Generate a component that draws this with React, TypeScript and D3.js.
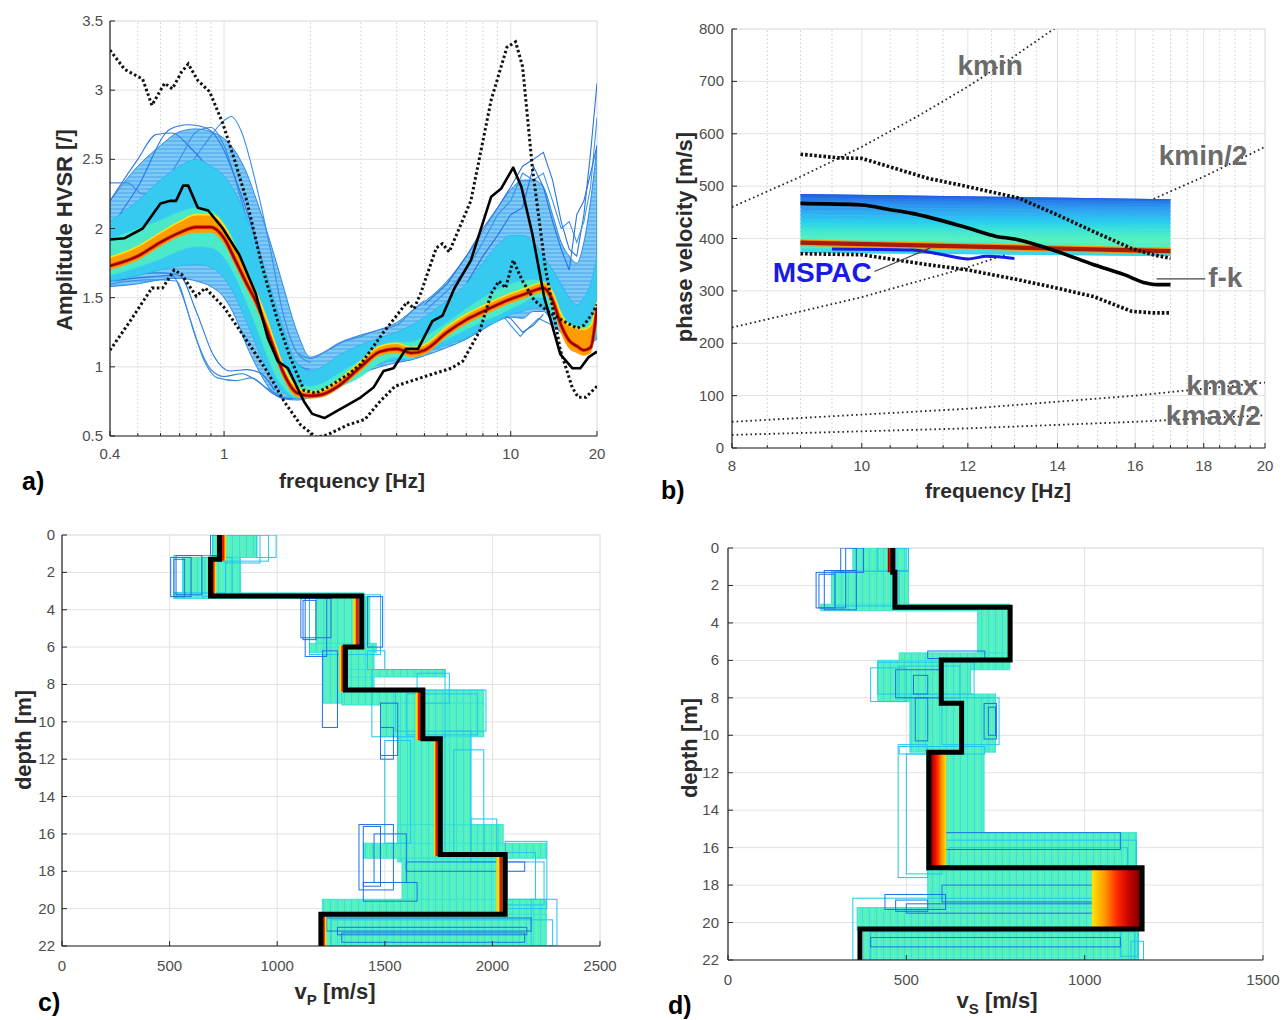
import React from "react";
import * as d3 from "d3";

type Pt = [number, number];
// depth top, depth bottom, velocity low, velocity high
type Box = [number, number, number, number];

const FONT = "'Liberation Sans', Arial, Helvetica, sans-serif";
const TICK_TEXT = "#4d4d4d";
const GRID = "#e2e2e2";

/* ---------------- (a) HVSR curves ---------------- */
const hvFreq = [0.4, 0.5, 0.6, 0.7, 0.8, 0.9, 1.0, 1.1, 1.2, 1.3, 1.4, 1.5, 1.6, 1.8, 2.0, 2.2, 2.5, 3.0, 3.5, 4.0, 4.5, 5.0, 6.0, 7.0, 8.0, 9.0, 10, 11, 12, 13, 14, 15, 16, 17, 18, 19, 20];
const hvCloudHi = [2.2, 2.45, 2.6, 2.7, 2.72, 2.7, 2.65, 2.55, 2.4, 2.2, 2.0, 1.8, 1.6, 1.25, 1.07, 1.1, 1.17, 1.23, 1.27, 1.32, 1.4, 1.47, 1.62, 1.8, 1.98, 2.15, 2.28, 2.35, 2.35, 2.3, 2.1, 1.9, 1.8, 1.75, 1.9, 2.2, 2.6];
const hvCloudLo = [1.58, 1.6, 1.63, 1.64, 1.62, 1.58, 1.5, 1.35, 1.15, 1.0, 0.88, 0.8, 0.77, 0.76, 0.78, 0.82, 0.87, 0.95, 1.0, 1.03, 1.05, 1.08, 1.14, 1.2, 1.27, 1.33, 1.36, 1.35, 1.4, 1.4, 1.32, 1.25, 1.2, 1.16, 1.15, 1.17, 1.2];
const hvMidHi = [2.05, 2.2, 2.35, 2.45, 2.5, 2.45, 2.38, 2.25, 2.08, 1.88, 1.68, 1.48, 1.3, 1.02, 0.97, 1.0, 1.08, 1.16, 1.21, 1.25, 1.3, 1.36, 1.48, 1.6, 1.75, 1.88, 1.95, 1.95, 1.9, 1.8, 1.7, 1.6, 1.5, 1.45, 1.5, 1.6, 1.8];
const hvMidLo = [1.62, 1.66, 1.7, 1.73, 1.74, 1.72, 1.64, 1.5, 1.32, 1.15, 1.0, 0.9, 0.82, 0.77, 0.78, 0.82, 0.87, 0.95, 1.02, 1.05, 1.06, 1.1, 1.16, 1.21, 1.28, 1.33, 1.38, 1.4, 1.43, 1.43, 1.35, 1.27, 1.2, 1.17, 1.16, 1.18, 1.22];
const hvCoreHi = [1.92, 2.0, 2.06, 2.12, 2.15, 2.13, 2.04, 1.88, 1.7, 1.52, 1.33, 1.15, 1.02, 0.88, 0.86, 0.88, 0.95, 1.05, 1.15, 1.18, 1.18, 1.22, 1.32, 1.42, 1.5, 1.56, 1.6, 1.62, 1.63, 1.62, 1.52, 1.4, 1.32, 1.3, 1.3, 1.35, 1.45];
const hvCoreLo = [1.66, 1.72, 1.78, 1.84, 1.87, 1.86, 1.79, 1.64, 1.46, 1.28, 1.1, 0.95, 0.86, 0.78, 0.78, 0.8, 0.85, 0.93, 1.03, 1.07, 1.06, 1.12, 1.2, 1.27, 1.33, 1.37, 1.42, 1.46, 1.5, 1.5, 1.38, 1.26, 1.18, 1.15, 1.14, 1.16, 1.25];
const hvWarmHi = [1.79, 1.87, 1.97, 2.05, 2.1, 2.1, 2.02, 1.85, 1.68, 1.53, 1.36, 1.18, 1.02, 0.85, 0.82, 0.83, 0.9, 1.04, 1.15, 1.17, 1.14, 1.16, 1.29, 1.38, 1.44, 1.49, 1.53, 1.56, 1.59, 1.61, 1.54, 1.38, 1.3, 1.28, 1.27, 1.3, 1.47];
const hvWarmLo = [1.7, 1.77, 1.87, 1.94, 1.97, 1.97, 1.89, 1.72, 1.56, 1.42, 1.25, 1.08, 0.93, 0.78, 0.77, 0.78, 0.84, 0.97, 1.08, 1.1, 1.07, 1.09, 1.22, 1.31, 1.37, 1.42, 1.46, 1.49, 1.52, 1.54, 1.44, 1.24, 1.13, 1.1, 1.08, 1.1, 1.38];
const hvBest = [1.73, 1.8, 1.9, 1.97, 2.01, 2.01, 1.93, 1.76, 1.6, 1.46, 1.29, 1.12, 0.97, 0.81, 0.79, 0.8, 0.86, 1.0, 1.11, 1.13, 1.1, 1.12, 1.25, 1.34, 1.4, 1.45, 1.49, 1.52, 1.55, 1.57, 1.48, 1.3, 1.19, 1.15, 1.12, 1.14, 1.43];

const hvMeasured: Pt[] = [[0.4, 1.92], [0.45, 1.93], [0.52, 2.0], [0.6, 2.18], [0.65, 2.2], [0.68, 2.2], [0.72, 2.31], [0.75, 2.31], [0.81, 2.15], [0.88, 2.13], [0.99, 2.0], [1.13, 1.81], [1.29, 1.53], [1.42, 1.21], [1.54, 1.04], [1.67, 0.99], [1.9, 0.75], [2.03, 0.66], [2.24, 0.63], [2.47, 0.68], [2.73, 0.73], [3.0, 0.78], [3.32, 0.85], [3.6, 0.97], [3.9, 0.99], [4.31, 1.13], [4.75, 1.13], [5.33, 1.33], [5.78, 1.37], [6.37, 1.57], [7.26, 1.77], [8.55, 2.23], [9.27, 2.29], [10.2, 2.44], [10.9, 2.3], [11.9, 1.96], [13.1, 1.5], [14.9, 1.09], [16.4, 0.99], [17.5, 0.99], [18.7, 1.07], [20, 1.11]];
const hvUpper: Pt[] = [[0.4, 3.29], [0.45, 3.15], [0.52, 3.08], [0.56, 2.89], [0.62, 3.05], [0.66, 3.01], [0.71, 3.13], [0.75, 3.19], [0.81, 3.07], [0.89, 2.99], [0.99, 2.76], [1.09, 2.49], [1.2, 2.2], [1.36, 1.72], [1.54, 1.33], [1.7, 1.07], [1.9, 0.83], [2.09, 0.81], [2.38, 0.87], [2.73, 0.95], [3.0, 1.02], [3.3, 1.14], [3.6, 1.25], [4.0, 1.37], [4.35, 1.47], [4.6, 1.42], [4.85, 1.53], [5.5, 1.86], [5.78, 1.89], [6.1, 1.83], [7.26, 2.2], [8.55, 2.93], [9.7, 3.31], [10.4, 3.35], [11.0, 3.17], [11.9, 2.44], [13.2, 1.72], [14.9, 1.12], [16.4, 0.85], [17.2, 0.78], [18.3, 0.78], [20, 0.86]];
const hvLower: Pt[] = [[0.4, 1.12], [0.47, 1.33], [0.56, 1.57], [0.61, 1.57], [0.67, 1.7], [0.71, 1.67], [0.8, 1.51], [0.86, 1.57], [1.0, 1.43], [1.2, 1.19], [1.41, 0.97], [1.62, 0.75], [1.85, 0.58], [2.1, 0.49], [2.3, 0.51], [2.7, 0.58], [3.1, 0.62], [3.5, 0.75], [3.95, 0.86], [4.85, 0.92], [5.78, 0.97], [6.2, 0.99], [6.8, 1.04], [7.8, 1.26], [8.55, 1.53], [9.1, 1.62], [9.6, 1.57], [10.2, 1.77], [11.0, 1.62], [12.1, 1.48], [13.5, 1.4], [15.3, 1.33], [17.0, 1.28], [18.0, 1.3], [19.2, 1.38], [20, 1.45]];

// individual trial curves standing apart from the dense cloud
const hvStrayLeft: Pt[][] = [
  [[0.4, 1.62], [0.55, 1.65], [0.66, 1.66], [0.72, 1.5], [0.8, 1.2], [0.9, 0.98], [1.0, 0.93], [1.15, 0.95], [1.3, 0.9], [1.5, 0.8], [1.7, 0.77], [2.0, 0.79]],
  [[0.4, 1.6], [0.55, 1.63], [0.68, 1.62], [0.76, 1.35], [0.85, 1.05], [0.95, 0.92], [1.1, 0.9], [1.25, 0.92], [1.4, 0.85], [1.6, 0.78]],
  [[0.4, 1.64], [0.6, 1.68], [0.7, 1.66], [0.8, 1.4], [0.92, 1.08], [1.05, 0.97], [1.2, 0.98], [1.35, 0.95], [1.5, 0.83]],
  [[0.4, 1.78], [0.55, 2.05], [0.7, 2.35], [0.85, 2.6], [1.0, 2.78], [1.06, 2.81], [1.15, 2.7], [1.3, 2.3], [1.45, 1.85], [1.6, 1.4], [1.8, 1.1], [2.0, 1.03]],
  [[0.4, 2.2], [0.5, 2.5], [0.58, 2.68], [0.66, 2.69], [0.75, 2.6], [0.9, 2.4], [1.05, 2.1], [1.25, 1.65], [1.45, 1.25], [1.7, 0.95], [1.9, 0.85]],
  [[0.4, 2.33], [0.46, 2.33], [0.52, 2.25], [0.6, 2.3], [0.7, 2.5], [0.8, 2.7], [0.9, 2.73], [1.0, 2.6], [1.15, 2.2], [1.35, 1.7], [1.6, 1.2], [1.85, 1.0], [2.0, 0.98]],
  [[0.4, 2.0], [0.5, 2.3], [0.65, 2.72], [0.75, 2.75], [0.88, 2.72], [0.98, 2.6], [1.1, 2.35], [1.3, 1.9], [1.5, 1.45], [1.7, 1.1], [1.95, 0.95]],
  [[1.8, 1.1], [2.0, 1.06], [2.3, 1.12], [2.6, 1.18], [3.0, 1.22], [3.5, 1.27], [4.0, 1.3], [4.5, 1.4], [5.0, 1.48]],
];
const hvStrayRight: Pt[][] = [
  [[5, 1.45], [6, 1.6], [7, 1.8], [8, 2.0], [9, 2.15], [10, 2.3], [11, 2.45], [12, 2.5], [13, 2.55], [14, 2.35], [15, 2.05], [16, 1.85], [17, 1.8], [18, 2.1], [19, 2.55], [20, 3.05]],
  [[5, 1.4], [6, 1.55], [7, 1.7], [8, 1.9], [9, 2.1], [10, 2.2], [11, 2.4], [12, 2.35], [13, 2.4], [14, 2.2], [15, 2.0], [16, 2.05], [17, 1.9], [18, 2.05], [19, 2.3], [20, 2.8]],
  [[7, 1.6], [8, 1.8], [9, 1.95], [10, 2.1], [11, 2.15], [12, 2.45], [13, 2.3], [14, 2.05], [15, 1.85], [16, 1.7], [17, 2.1], [18, 2.2], [19, 2.4], [20, 2.6]],
  [[6, 1.3], [7, 1.35], [8, 1.4], [9, 1.42], [10, 1.3], [10.8, 1.22], [11.5, 1.28], [12.5, 1.35], [14, 1.3], [16, 1.2]],
  [[7, 1.35], [8, 1.4], [9, 1.38], [10, 1.35], [11, 1.25], [12, 1.3], [13, 1.38]],
];
const hvXTicks = [0.4, 1, 10, 20];
const hvXMinor = [0.5, 0.6, 0.7, 0.8, 0.9, 2, 3, 4, 5, 6, 7, 8, 9];
const hvYTicks = [0.5, 1, 1.5, 2, 2.5, 3, 3.5];

/* ---------------- (b) dispersion curves ---------------- */
const dcEdgeFreq = [9, 17];
const dcBandTop = [485, 475];
const dcBandBottom = [373, 366];
const dcBestVel = [392, 376];
const dcTraceStart = [484, 480, 476, 471, 466, 460, 452, 445, 436, 428, 420, 412, 404, 397, 386, 380, 374];
const dcTraceEnd = [474, 472, 468, 463, 458, 452, 445, 438, 429, 421, 413, 406, 398, 388, 372, 370, 368];
const fkMean: Pt[] = [[9, 467], [10, 464], [10.5, 455], [10.9, 448], [12, 420], [12.6, 404], [13, 399], [14, 375], [14.9, 350], [15.7, 331], [16.3, 315], [16.6, 312], [17, 312]];
const fkUpper: Pt[] = [[9, 561], [9.6, 554], [10, 553], [11.2, 515], [12, 499], [13.1, 477], [14, 445], [14.9, 413], [15.9, 381], [16.5, 369], [17, 362]];
const fkLower: Pt[] = [[9, 371], [10, 369], [11.2, 350], [12, 340], [13.1, 321], [14, 305], [14.9, 289], [15.9, 261], [16.5, 258], [17, 258]];
const mspacCurve: Pt[] = [[9.5, 380], [10.9, 378], [11.5, 369], [12, 361], [12.4, 366], [13, 362]];
const kminLine: Pt[] = [[8, 460], [9, 518], [10, 575], [11, 633], [12, 690], [13, 748], [14, 805]];
const kminHalfLine: Pt[] = [[8, 230], [10, 288], [12, 345], [14, 403], [16, 460], [18, 518], [20, 575]];
const kmaxLine: Pt[] = [[8, 50], [12, 75], [16, 100], [20, 125]];
const kmaxHalfLine: Pt[] = [[8, 25], [12, 37.5], [16, 50], [20, 62.5]];
const dcXTicks = [8, 10, 12, 14, 16, 18, 20];
const dcXMinor = [8.5, 9, 9.5, 10.5, 11, 11.5, 12.5, 13, 13.5, 14.5, 15, 15.5, 16.5, 17, 17.5, 18.5, 19, 19.5];
const dcYTicks = [0, 100, 200, 300, 400, 500, 600, 700, 800];

/* ---------------- (c) Vp profiles ---------------- */
const depthTicks = [0, 2, 4, 6, 8, 10, 12, 14, 16, 18, 20, 22];
const vpTops = [0, 1.3, 3.26, 6.0, 8.3, 10.9, 17.1, 20.3];
const vpBest = [732, 690, 1393, 1317, 1677, 1758, 2059, 1203];
const vpNearRed = [748, 702, 1372, 1305, 1660, 1742, 2040, 1214];
const vpNearYellow = [756, 710, 1360, 1296, 1650, 1735, 2025, 1222];
const vpDense: Box[] = [
  [0, 1.2, 700, 905], [1.2, 3.3, 560, 830], [3.1, 3.4, 520, 1400], [3.3, 6.1, 1180, 1430],
  [5.8, 6.3, 1150, 1460], [6.0, 9.0, 1215, 1450], [7.2, 7.6, 1300, 1780], [8.3, 9.1, 1300, 1960],
  [9.0, 10.8, 1480, 1960], [10.8, 17.2, 1560, 1900], [15.5, 17.5, 1560, 2050], [16.5, 17.3, 1400, 2250],
  [17.3, 20.0, 1580, 2060], [19.5, 20.5, 1210, 2250], [20.3, 22, 1220, 2250],
];
const vpBlueBoxes: Box[] = [
  [1.2, 3.3, 505, 600], [1.1, 3.2, 530, 650], [3.4, 5.5, 1110, 1250], [3.3, 6.5, 1130, 1230],
  [6.2, 10.3, 1210, 1280], [9.0, 11.8, 1480, 1560], [15.5, 19.0, 1380, 1540], [16.0, 18.6, 1450, 1600],
  [18.6, 19.6, 1400, 1650], [20.5, 21.2, 1230, 2180], [3.3, 6.0, 1420, 1490], [21.3, 21.8, 1300, 2150],
  [1.3, 3.3, 520, 570], [3.5, 5.6, 1120, 1180], [10.3, 12.0, 1480, 1540], [15.6, 18.8, 1400, 1480],
  [17.5, 18.0, 1600, 2150], [21.0, 21.4, 1280, 2160], [0, 1.1, 690, 722],
];
const vpCyanBoxes: Box[] = [
  [0, 1.2, 905, 995], [0, 1.5, 760, 920], [1.2, 3.3, 650, 790], [7.2, 10.8, 1440, 1780],
  [8.3, 10.5, 1550, 1970], [10.5, 17.0, 1780, 1900], [15.2, 17.5, 1900, 2020], [16.4, 20.0, 2060, 2253],
  [17.0, 19.5, 2070, 2200], [19.5, 22, 2180, 2300], [6.2, 7.2, 1420, 1500], [7.4, 9.0, 1650, 1800],
  [0, 1.4, 700, 960], [1.1, 3.1, 520, 760], [3.2, 6.4, 1150, 1480], [8.5, 10.7, 1600, 1930],
  [11.0, 16.5, 1500, 1620], [11.5, 17.0, 1820, 1960], [17.5, 19.8, 2060, 2240], [20.6, 22, 1250, 2280],
];
const vpXTicks = [0, 500, 1000, 1500, 2000, 2500];

/* ---------------- (d) Vs profiles ---------------- */
const vsTops = [0, 1.3, 3.17, 5.98, 8.29, 10.9, 17.08, 20.34];
const vsBest = [462, 468, 791, 598, 655, 563, 1161, 370];
const vsDense: Box[] = [
  [0, 1.3, 350, 500], [1.2, 3.2, 290, 506], [3.0, 3.35, 260, 790], [3.2, 6.0, 700, 790],
  [5.6, 6.5, 480, 790], [6.0, 8.2, 420, 680], [7.8, 10.9, 510, 750], [10.6, 17.2, 557, 718],
  [15.2, 17.2, 560, 1145], [17.1, 20.3, 560, 1100], [19.2, 20.4, 362, 1100], [20.3, 22, 380, 1150],
];
const vsBlueBoxes: Box[] = [
  [0, 1.3, 316, 380], [1.3, 3.2, 247, 330], [1.2, 3.3, 270, 360], [5.5, 5.9, 560, 720],
  [6.5, 8.0, 470, 600], [8.0, 10.3, 525, 560], [8.3, 10.2, 718, 753], [15.2, 16.1, 580, 1100],
  [18.5, 19.3, 440, 610], [19.0, 19.5, 500, 1100], [18.0, 18.9, 600, 1050],
  [0, 1.2, 330, 360], [1.4, 3.2, 255, 300], [6.8, 7.8, 520, 560], [8.5, 10.0, 730, 750],
  [18.8, 19.4, 470, 560], [20.8, 21.3, 400, 1100],
];
const vsCyanBoxes: Box[] = [
  [0, 1.2, 470, 505], [6.4, 8.2, 400, 500], [6.1, 7.8, 420, 690], [10.5, 17.6, 477, 560],
  [11.0, 17.4, 500, 600], [15.6, 17.0, 600, 1145], [18.7, 22, 350, 1150], [19.2, 21.8, 1100, 1150],
  [10.6, 11.0, 480, 720], [0, 1.25, 420, 506], [1.25, 3.1, 300, 480], [6.3, 8.0, 480, 650],
  [8.0, 10.5, 600, 760], [16.0, 17.2, 620, 1120], [20.5, 22, 400, 1140], [21, 22, 1130, 1165],
];
const vsWarmRedLeft: Box[] = [[0, 1.3, 448, 462], [10.9, 17.08, 563, 612]];
const vsWarmRedRight: Box[] = [[17.08, 20.34, 1020, 1161]];
const vsXTicks = [0, 500, 1000, 1500];

/* ---------------- helpers ---------------- */
function stepPoints(tops: number[], vals: number[], bottom: number): Pt[] {
  const pts: Pt[] = [];
  vals.forEach((v, i) => {
    pts.push([v, tops[i]], [v, i + 1 < tops.length ? tops[i + 1] : bottom]);
  });
  return pts;
}

function Grid({ x, y, xMajor, yMajor, xMinor = [] }: any) {
  const [xl, xr] = x.range();
  const [yb, yt] = y.range();
  return (
    <g>
      {xMinor.map((t: number) => (
        <line key={"m" + t} x1={x(t)} x2={x(t)} y1={yb} y2={yt} stroke="#cdcdcd" strokeWidth={1} strokeDasharray="1.5 2.5" />
      ))}
      {xMajor.map((t: number) => (
        <line key={"x" + t} x1={x(t)} x2={x(t)} y1={yb} y2={yt} stroke={GRID} strokeWidth={1} />
      ))}
      {yMajor.map((t: number) => (
        <line key={"y" + t} x1={xl} x2={xr} y1={y(t)} y2={y(t)} stroke={GRID} strokeWidth={1} />
      ))}
      <rect x={xl} y={yt} width={xr - xl} height={yb - yt} fill="none" stroke="#d6d6d6" strokeWidth={1} />
    </g>
  );
}

function AxisLines({ x, y, xTicks, yTicks, xMinor = [], xLabelY, yLabelX, fmtX, fmtY }: any) {
  const [xl, xr] = x.range();
  const [yb, yt] = y.range();
  return (
    <g>
      <line x1={xl} x2={xr} y1={yb} y2={yb} stroke="#262626" strokeWidth={1.2} />
      <line x1={xl} x2={xl} y1={yb} y2={yt} stroke="#262626" strokeWidth={1.2} />
      {xMinor.map((t: number) => (
        <line key={"mt" + t} x1={x(t)} x2={x(t)} y1={yb} y2={yb - 3} stroke="#262626" strokeWidth={1} />
      ))}
      {xTicks.map((t: number) => (
        <g key={"xt" + t}>
          <line x1={x(t)} x2={x(t)} y1={yb} y2={yb - 5} stroke="#262626" strokeWidth={1} />
          <text x={x(t)} y={xLabelY} textAnchor="middle" fontSize={15} fill={TICK_TEXT}>
            {fmtX ? fmtX(t) : String(t)}
          </text>
        </g>
      ))}
      {yTicks.map((t: number) => (
        <g key={"yt" + t}>
          <line x1={xl} x2={xl + 5} y1={y(t)} y2={y(t)} stroke="#262626" strokeWidth={1} />
          <text x={yLabelX} y={y(t) + 5} textAnchor="end" fontSize={15} fill={TICK_TEXT}>
            {fmtY ? fmtY(t) : String(t)}
          </text>
        </g>
      ))}
    </g>
  );
}

function Title({ x, y, text, rotate = false, size = 21 }: any) {
  return (
    <text
      x={x}
      y={y}
      textAnchor="middle"
      fontSize={size}
      fontWeight="bold"
      fill="#2b2b2b"
      transform={rotate ? `rotate(-90 ${x} ${y})` : undefined}
    >
      {text}
    </text>
  );
}

function PanelTag({ x, y, text }: any) {
  return (
    <text x={x} y={y} fontSize={25} fontWeight="bold" fill="#000">
      {text}
    </text>
  );
}

/* ---------------- (a) ---------------- */
function PanelA() {
  const x = d3.scaleLog().domain([0.4, 20]).range([110, 597]);
  const y = d3.scaleLinear().domain([0.5, 3.5]).range([436, 21]);
  const band = (lo: number[], hi: number[]) =>
    d3
      .area<number>()
      .x((f) => x(f))
      .y0((_, i) => y(lo[i]))
      .y1((_, i) => y(hi[i]))
      .curve(d3.curveMonotoneX)(hvFreq) as string;
  const series = (vals: number[]) =>
    d3
      .line<number>()
      .x((f) => x(f))
      .y((_, i) => y(vals[i]))
      .curve(d3.curveMonotoneX)(hvFreq) as string;
  const smooth = d3.line<Pt>().x((d) => x(d[0])).y((d) => y(d[1])).curve(d3.curveMonotoneX);
  const raw = d3.line<Pt>().x((d) => x(d[0])).y((d) => y(d[1]));
  const [xl, xr] = x.range();
  const [yb, yt] = y.range();
  return (
    <g>
      <clipPath id="clipA">
        <rect x={xl} y={yt} width={xr - xl} height={yb - yt} />
      </clipPath>
      <Grid x={x} y={y} xMajor={[1, 10]} yMajor={[1, 1.5, 2, 2.5, 3]} xMinor={hvXMinor} />
      <g clipPath="url(#clipA)">
        <path d={band(hvCloudLo, hvCloudHi)} fill="url(#lineTexA)" stroke="#2f86e6" strokeWidth={1} />
        {hvStrayLeft.map((c, i) => (
          <path key={"sl" + i} d={smooth(c) as string} fill="none" stroke={i % 2 ? "#3a8fe6" : "#2a78e0"} strokeWidth={1.1} />
        ))}
        {hvStrayRight.map((c, i) => (
          <path key={"sr" + i} d={raw(c) as string} fill="none" stroke={i % 2 ? "#3a95ea" : "#2a74de"} strokeWidth={1.1} />
        ))}
        <path d={band(hvMidLo, hvMidHi)} fill="#36caf0" stroke="#29b4ee" strokeWidth={0.8} />
        <path d={band(hvCoreLo, hvCoreHi)} fill="#4ce9c8" stroke="#3fe0d8" strokeWidth={0.8} />
        <path d={band(hvWarmLo, hvWarmHi)} fill="#ff9c00" />
        <path d={series(hvWarmHi)} fill="none" stroke="#ffe11a" strokeWidth={1.6} />
        <path d={series(hvBest)} fill="none" stroke="#e8280a" strokeWidth={3.6} />
        <path d={series(hvBest)} fill="none" stroke="#8a0000" strokeWidth={1.8} />
        <path d={raw(hvUpper) as string} fill="none" stroke="#111" strokeWidth={3} strokeDasharray="2.5 2.5" />
        <path d={raw(hvLower) as string} fill="none" stroke="#111" strokeWidth={3} strokeDasharray="2.5 2.5" />
        <path d={raw(hvMeasured) as string} fill="none" stroke="#000" strokeWidth={2.6} strokeLinejoin="round" />
      </g>
      <AxisLines x={x} y={y} xTicks={hvXTicks} yTicks={hvYTicks} xMinor={hvXMinor} xLabelY={459} yLabelX={103} />
      <Title x={352} y={488} text="frequency [Hz]" />
      <Title x={72} y={230} text="Amplitude HVSR [/]" rotate size={22} />
      <PanelTag x={22} y={490} text="a)" />
    </g>
  );
}

/* ---------------- (b) ---------------- */
function PanelB() {
  const x = d3.scaleLog().domain([8, 20]).range([732, 1265]);
  const y = d3.scaleLinear().domain([0, 800]).range([448, 29]);
  const raw = d3.line<Pt>().x((d) => x(d[0])).y((d) => y(d[1]));
  const smooth = d3.line<Pt>().x((d) => x(d[0])).y((d) => y(d[1])).curve(d3.curveMonotoneX);
  const [xl, xr] = x.range();
  const [yb, yt] = y.range();
  const bandPath = d3
    .area<number>()
    .x((f) => x(f))
    .y0((_, i) => y(dcBandBottom[i]))
    .y1((_, i) => y(dcBandTop[i]))(dcEdgeFreq) as string;
  const bestPath = d3
    .line<number>()
    .x((f) => x(f))
    .y((_, i) => y(dcBestVel[i]))(dcEdgeFreq) as string;
  const traceColor = d3
    .scaleLinear<string>()
    .domain([0, 0.25, 0.5, 0.75, 1])
    .range(["#1d5ddf", "#2f9cf0", "#27d2ee", "#55f0c0", "#35d6ec"]);
  const gTop = y(dcBandTop[0]);
  const gBot = y(dcBandBottom[1]);
  const label = (text: string, f: number, v: number, anchor: string, color = "#6b6b6b") => (
    <text x={x(f)} y={y(v)} textAnchor={anchor} fontSize={28} fontWeight="bold" fill={color}>
      {text}
    </text>
  );
  return (
    <g>
      <defs>
        <linearGradient id="dcBand" gradientUnits="userSpaceOnUse" x1={0} x2={0} y1={gTop} y2={gBot}>
          <stop offset="0" stopColor="#1f5fe0" />
          <stop offset="0.12" stopColor="#2a82ea" />
          <stop offset="0.3" stopColor="#33aaf2" />
          <stop offset="0.45" stopColor="#2bcdef" />
          <stop offset="0.58" stopColor="#3ee6d6" />
          <stop offset="0.72" stopColor="#56f0c0" />
          <stop offset="0.84" stopColor="#5cf0b4" />
          <stop offset="0.9" stopColor="#3edcea" />
          <stop offset="1" stopColor="#2ed2ee" />
        </linearGradient>
        <clipPath id="clipB">
          <rect x={xl} y={yt} width={xr - xl} height={yb - yt} />
        </clipPath>
      </defs>
      <Grid x={x} y={y} xMajor={[10, 12, 14, 16, 18]} yMajor={[100, 200, 300, 400, 500, 600, 700]} xMinor={dcXMinor} />
      <g clipPath="url(#clipB)">
        <path d={raw(kminLine) as string} fill="none" stroke="#222" strokeWidth={1.8} strokeDasharray="1.6 3" />
        <path d={raw(kminHalfLine) as string} fill="none" stroke="#222" strokeWidth={1.8} strokeDasharray="1.6 3" />
        <path d={raw(kmaxLine) as string} fill="none" stroke="#222" strokeWidth={1.8} strokeDasharray="1.6 3" />
        <path d={raw(kmaxHalfLine) as string} fill="none" stroke="#222" strokeWidth={1.8} strokeDasharray="1.6 3" />
        <path d={bandPath} fill="url(#dcBand)" />
        {dcTraceStart.map((v, i) => (
          <path
            key={"tr" + i}
            d={raw([[dcEdgeFreq[0], v], [dcEdgeFreq[1], dcTraceEnd[i]]]) as string}
            fill="none"
            stroke={traceColor(i / (dcTraceStart.length - 1))}
            strokeWidth={1}
          />
        ))}
        <path d={bestPath} fill="none" stroke="#ff9400" strokeWidth={6.5} />
        <path d={bestPath} fill="none" stroke="#a41c0c" strokeWidth={4.2} />
        <path d={smooth(mspacCurve) as string} fill="none" stroke="#1a1ae6" strokeWidth={3} />
        <path d={raw(fkUpper) as string} fill="none" stroke="#111" strokeWidth={3.6} strokeDasharray="2.6 2" />
        <path d={raw(fkLower) as string} fill="none" stroke="#111" strokeWidth={3.6} strokeDasharray="2.6 2" />
        <path d={smooth(fkMean) as string} fill="none" stroke="#000" strokeWidth={3.6} />
      </g>
      <path d={raw([[10.22, 337], [11.25, 382]]) as string} stroke="#444" strokeWidth={1.2} fill="none" />
      <path d={raw([[16.6, 323], [18.05, 323]]) as string} stroke="#444" strokeWidth={1.2} fill="none" />
      {label("kmin", 12.47, 712, "middle")}
      {label("kmin/2", 17.98, 540, "middle")}
      {label("kmax", 18.58, 101, "middle")}
      {label("kmax/2", 18.3, 44, "middle")}
      {label("f-k", 18.14, 307, "start")}
      {label("MSPAC", 8.58, 317, "start", "#1a1ae6")}
      <AxisLines x={x} y={y} xTicks={dcXTicks} yTicks={dcYTicks} xMinor={dcXMinor} xLabelY={471} yLabelX={724} />
      <Title x={998} y={498} text="frequency [Hz]" />
      <Title x={692} y={237} text="phase velocity [m/s]" rotate size={22} />
      <PanelTag x={661} y={499} text="b)" />
    </g>
  );
}

/* ---------------- (c) / (d) profile panels ---------------- */
function ProfilePanel({ id, xDomain, xRange, yRange, xTicks, dense, blue, cyan, tops, best, nearYellow, nearRed, warmLeft, warmRight, xLabelY, yLabelX, tagX, tagY, titleX, titleY, sub, yTitleX, yTitleY }: any) {
  const x = d3.scaleLinear().domain(xDomain).range(xRange);
  const y = d3.scaleLinear().domain([0, 22]).range(yRange);
  const [xl, xr] = x.range();
  const [yb, yt] = [yRange[1], yRange[0]];
  const yv = d3.scaleLinear().domain([22, 0]).range([yRange[1], yRange[0]]);
  const step = d3.line<Pt>().x((d) => x(d[0])).y((d) => y(d[1]));
  const rect = (b: Box, key: string, props: any) => (
    <rect key={key} x={x(b[2])} y={y(b[0])} width={Math.max(0.5, x(b[3]) - x(b[2]))} height={y(b[1]) - y(b[0])} {...props} />
  );
  return (
    <g>
      <defs>
        <clipPath id={"clip" + id}>
          <rect x={xl} y={yt} width={xr - xl} height={yb - yt} />
        </clipPath>
      </defs>
      <Grid x={x} y={yv} xMajor={xTicks.slice(1, -1)} yMajor={depthTicks.slice(1, -1)} />
      <g clipPath={`url(#clip${id})`}>
        {dense.map((b: Box, i: number) => rect(b, "d" + i, { fill: "url(#mintTex)", stroke: "#38e2d8", strokeWidth: 1 }))}
        {cyan.map((b: Box, i: number) => rect(b, "c" + i, { fill: "none", stroke: "#1fc6f0", strokeWidth: 1 }))}
        {blue.map((b: Box, i: number) => rect(b, "b" + i, { fill: "none", stroke: "#1f6fe6", strokeWidth: 1 }))}
        {(warmLeft || []).map((b: Box, i: number) => rect(b, "wl" + i, { fill: "url(#warmRedLeft)" }))}
        {(warmRight || []).map((b: Box, i: number) => rect(b, "wr" + i, { fill: "url(#warmRedRight)" }))}
        {nearYellow && (
          <path d={step(stepPoints(tops, nearYellow, 22)) as string} fill="none" stroke="#ffd800" strokeWidth={3} />
        )}
        {nearRed && <path d={step(stepPoints(tops, nearRed, 22)) as string} fill="none" stroke="#e01a00" strokeWidth={3} />}
        <path d={step(stepPoints(tops, best, 22)) as string} fill="none" stroke="#000" strokeWidth={5} strokeLinejoin="miter" />
      </g>
      <AxisLines x={x} y={yv} xTicks={xTicks} yTicks={depthTicks} xLabelY={xLabelY} yLabelX={yLabelX} />
      <text x={titleX} y={titleY} textAnchor="middle" fontSize={22} fontWeight="bold" fill="#2b2b2b">
        <tspan>v</tspan>
        <tspan dy={6} fontSize={15}>
          {sub}
        </tspan>
        <tspan dy={-6}> [m/s]</tspan>
      </text>
      <Title x={yTitleX} y={yTitleY} text="depth [m]" rotate size={22} />
      <PanelTag x={tagX} y={tagY} text={id === "C" ? "c)" : "d)"} />
    </g>
  );
}

export default function App() {
  return (
    <svg
      width={1285}
      height={1020}
      viewBox="0 0 1285 1020"
      style={{ position: "absolute", left: 0, top: 0, background: "#ffffff" }}
      fontFamily={FONT}
    >
      <defs>
        <linearGradient id="warmRedLeft" x1="0" x2="1" y1="0" y2="0">
          <stop offset="0" stopColor="#6e0000" />
          <stop offset="0.25" stopColor="#c40000" />
          <stop offset="0.5" stopColor="#ff2a00" />
          <stop offset="0.75" stopColor="#ff9a00" />
          <stop offset="1" stopColor="#ffe600" />
        </linearGradient>
        <linearGradient id="warmRedRight" x1="0" x2="1" y1="0" y2="0">
          <stop offset="0" stopColor="#ffe600" />
          <stop offset="0.25" stopColor="#ff9a00" />
          <stop offset="0.5" stopColor="#ff2a00" />
          <stop offset="0.75" stopColor="#c40000" />
          <stop offset="1" stopColor="#6e0000" />
        </linearGradient>
        <pattern id="mintTex" patternUnits="userSpaceOnUse" width={7} height={5}>
          <rect width={7} height={5} fill="#52f0c2" />
          <line x1={1.5} x2={1.5} y1={0} y2={5} stroke="#3adfdc" strokeWidth={0.9} />
          <line x1={4.5} x2={4.5} y1={0} y2={5} stroke="#68f4b2" strokeWidth={0.9} />
        </pattern>
        <pattern id="lineTexA" patternUnits="userSpaceOnUse" width={6} height={4}>
          <rect width={6} height={4} fill="#74c2f2" />
          <line x1={0} x2={6} y1={1} y2={1} stroke="#4aa6ec" strokeWidth={0.8} />
          <line x1={0} x2={6} y1={3} y2={3} stroke="#8fd6f6" strokeWidth={0.8} />
        </pattern>
      </defs>
      <rect x={0} y={0} width={1285} height={1020} fill="#fff" />
      <PanelA />
      <PanelB />
      <ProfilePanel
        id="C"
        xDomain={[0, 2500]}
        xRange={[62, 600]}
        yRange={[535, 946]}
        xTicks={vpXTicks}
        dense={vpDense}
        blue={vpBlueBoxes}
        cyan={vpCyanBoxes}
        tops={vpTops}
        best={vpBest}
        nearYellow={vpNearYellow}
        nearRed={vpNearRed}
        xLabelY={971}
        yLabelX={55}
        tagX={38}
        tagY={1011}
        titleX={335}
        titleY={999}
        sub="P"
        yTitleX={31}
        yTitleY={740}
      />
      <ProfilePanel
        id="D"
        xDomain={[0, 1500]}
        xRange={[728, 1263]}
        yRange={[548, 960]}
        xTicks={vsXTicks}
        dense={vsDense}
        blue={vsBlueBoxes}
        cyan={vsCyanBoxes}
        tops={vsTops}
        best={vsBest}
        warmLeft={vsWarmRedLeft}
        warmRight={vsWarmRedRight}
        xLabelY={985}
        yLabelX={719}
        tagX={668}
        tagY={1014}
        titleX={997}
        titleY={1008}
        sub="S"
        yTitleX={697}
        yTitleY={748}
      />
    </svg>
  );
}
